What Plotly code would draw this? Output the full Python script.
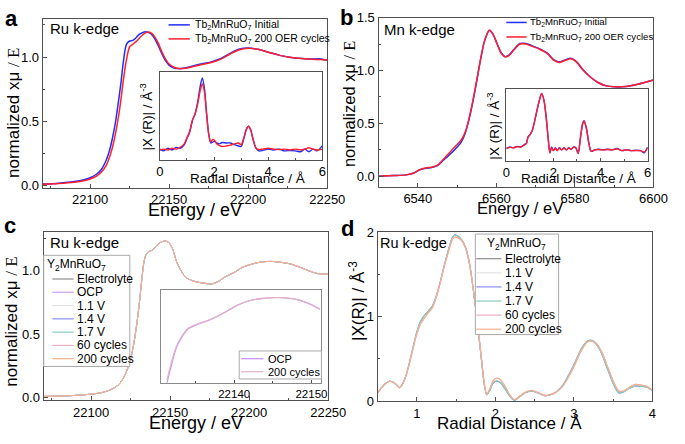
import plotly.graph_objects as go

W, H = 685, 444

# ---------------- data ----------------
# Panel a: Ru K-edge XANES, Tb2MnRuO7
a_energy = [22070, 22080, 22090, 22096, 22100, 22104, 22107, 22110, 22112, 22114, 22116, 22118,
            22119.5, 22121, 22123, 22125, 22127, 22129, 22131, 22133, 22135, 22137, 22139, 22141,
            22143, 22145, 22147, 22150, 22153, 22156, 22160, 22165, 22170, 22176, 22182, 22188,
            22194, 22200, 22206, 22212, 22218, 22225, 22232, 22240, 22246, 22250]
a_initial = [0.008, 0.015, 0.028, 0.042, 0.058, 0.085, 0.12, 0.19, 0.26, 0.36, 0.49, 0.66,
             0.80, 0.96, 1.10, 1.125, 1.13, 1.15, 1.177, 1.19, 1.197, 1.19, 1.175, 1.14,
             1.09, 1.035, 0.985, 0.935, 0.915, 0.91, 0.915, 0.93, 0.945, 0.96, 0.985, 1.025,
             1.06, 1.07, 1.06, 1.04, 1.02, 1.00, 0.99, 0.985, 0.985, 0.975]
a_oer = [0.006, 0.012, 0.022, 0.034, 0.048, 0.07, 0.10, 0.15, 0.21, 0.29, 0.40, 0.54,
         0.67, 0.82, 0.98, 1.08, 1.10, 1.12, 1.145, 1.17, 1.188, 1.195, 1.185, 1.155,
         1.11, 1.05, 1.00, 0.945, 0.92, 0.91, 0.912, 0.925, 0.94, 0.955, 0.98, 1.02,
         1.055, 1.068, 1.06, 1.04, 1.02, 1.00, 0.99, 0.983, 0.98, 0.975]

# Panel a inset: |X(R)| (arbitrary units)
a_inset_r = [0, 0.15, 0.3, 0.45, 0.6, 0.75, 0.9, 1.0, 1.1, 1.2, 1.3, 1.4, 1.5, 1.57, 1.65, 1.72,
             1.8, 1.88, 1.95, 2.02, 2.1, 2.2, 2.3, 2.45, 2.6, 2.75, 2.9, 3.0, 3.1, 3.2, 3.27,
             3.35, 3.45, 3.55, 3.65, 3.8, 4.0, 4.2, 4.4, 4.6, 4.8, 5.0, 5.2, 5.35, 5.5, 5.65,
             5.8, 6.0]
a_inset_initial = [0.12, 0.10, 0.13, 0.11, 0.14, 0.13, 0.17, 0.24, 0.31, 0.44, 0.52, 0.66, 0.85,
                   0.93, 0.80, 0.55, 0.30, 0.19, 0.20, 0.21, 0.19, 0.18, 0.195, 0.19, 0.19, 0.17,
                   0.155, 0.15, 0.24, 0.35, 0.38, 0.34, 0.22, 0.13, 0.10, 0.105, 0.12, 0.11,
                   0.12, 0.10, 0.105, 0.10, 0.09, 0.12, 0.09, 0.12, 0.10, 0.16]
a_inset_oer = [0.11, 0.12, 0.11, 0.13, 0.12, 0.14, 0.18, 0.25, 0.32, 0.45, 0.52, 0.64, 0.80,
               0.86, 0.76, 0.53, 0.30, 0.20, 0.23, 0.22, 0.18, 0.16, 0.15, 0.155, 0.165, 0.18,
               0.19, 0.17, 0.25, 0.35, 0.38, 0.34, 0.22, 0.13, 0.115, 0.12, 0.13, 0.12,
               0.115, 0.12, 0.11, 0.12, 0.11, 0.12, 0.135, 0.12, 0.11, 0.12]

# Panel b: Mn K-edge XANES, Tb2MnRuO7
b_energy = [6530, 6534, 6537, 6539, 6540.5, 6542, 6543.5, 6545, 6546.5, 6548, 6549.5, 6551,
            6552, 6553, 6554, 6555, 6556, 6557, 6558.2, 6559.2, 6560.2, 6561.2, 6562.2, 6563.2,
            6564.5, 6566, 6567.5, 6569, 6571, 6573, 6574.5, 6576, 6577.5, 6579, 6580.5, 6582,
            6584, 6586, 6588, 6590, 6593, 6596, 6600]
b_initial = [0.0, 0.005, 0.012, 0.03, 0.06, 0.075, 0.082, 0.10, 0.15, 0.20, 0.255, 0.32,
             0.40, 0.53, 0.70, 0.90, 1.11, 1.28, 1.38, 1.34, 1.25, 1.17, 1.13, 1.145,
             1.20, 1.255, 1.255, 1.235, 1.205, 1.165, 1.105, 1.08, 1.10, 1.115, 1.08, 1.01,
             0.936, 0.884, 0.854, 0.845, 0.848, 0.87, 0.91]
b_oer = [0.0, 0.005, 0.012, 0.03, 0.062, 0.078, 0.085, 0.105, 0.16, 0.22, 0.28, 0.34,
         0.41, 0.54, 0.71, 0.91, 1.11, 1.28, 1.38, 1.34, 1.25, 1.165, 1.13, 1.14,
         1.195, 1.25, 1.25, 1.23, 1.20, 1.16, 1.10, 1.076, 1.095, 1.11, 1.076, 1.006,
         0.936, 0.884, 0.854, 0.845, 0.848, 0.87, 0.91]

# Panel b inset: |X(R)| (arbitrary units)
b_inset_r = [0, 0.15, 0.3, 0.45, 0.6, 0.75, 0.85, 0.92, 1.0, 1.1, 1.2, 1.3, 1.4, 1.5, 1.6,
             1.7, 1.78, 1.85, 1.92, 2.0, 2.08, 2.16, 2.25, 2.35, 2.45, 2.55, 2.65, 2.75, 2.85,
             2.95, 3.05, 3.15, 3.25, 3.3, 3.4, 3.5, 3.6, 3.75, 3.9, 4.1, 4.3, 4.5, 4.7, 4.9,
             5.1, 5.3, 5.5, 5.7, 5.85, 6.0]
b_inset_initial = [0.17, 0.19, 0.18, 0.20, 0.19, 0.22, 0.24, 0.33, 0.36, 0.42, 0.55, 0.70, 0.84,
                   0.94, 0.84, 0.58, 0.30, 0.11, 0.19, 0.14, 0.18, 0.14, 0.18, 0.15, 0.18, 0.15,
                   0.18, 0.16, 0.19, 0.18, 0.10, 0.33, 0.53, 0.56, 0.45, 0.25, 0.13, 0.15, 0.16,
                   0.15, 0.16, 0.15, 0.17, 0.14, 0.15, 0.14, 0.145, 0.14, 0.11, 0.19]
b_inset_oer = [0.17, 0.185, 0.18, 0.195, 0.19, 0.215, 0.24, 0.33, 0.36, 0.42, 0.55, 0.70, 0.84,
               0.935, 0.84, 0.58, 0.30, 0.11, 0.185, 0.14, 0.175, 0.14, 0.175, 0.15, 0.175, 0.15,
               0.175, 0.16, 0.185, 0.18, 0.10, 0.33, 0.53, 0.555, 0.45, 0.25, 0.13, 0.15, 0.155,
               0.15, 0.155, 0.15, 0.165, 0.14, 0.15, 0.14, 0.14, 0.14, 0.12, 0.18]

# Panel c: Ru K-edge XANES, Y2MnRuO7 (all conditions overlap)
c_energy = [22070, 22080, 22090, 22100, 22106, 22111, 22115, 22118, 22120.5, 22122.5, 22124.5,
            22126, 22127.5, 22129, 22130.5, 22132, 22133.5, 22135, 22137, 22139, 22141, 22144,
            22146.5, 22149, 22151.5, 22154, 22157, 22160, 22164, 22168, 22172, 22176, 22180,
            22185, 22190, 22196, 22202, 22208, 22214, 22220, 22226, 22232, 22238, 22243, 22250]
c_mu = [0.01, 0.013, 0.018, 0.028, 0.038, 0.056, 0.08, 0.11, 0.157, 0.21, 0.28,
        0.36, 0.46, 0.59, 0.74, 0.92, 1.07, 1.13, 1.15, 1.16, 1.19, 1.22,
        1.23, 1.22, 1.17, 1.07, 0.995, 0.944, 0.919, 0.906, 0.898, 0.893, 0.91,
        0.95, 0.98, 1.025, 1.05, 1.066, 1.07, 1.063, 1.05, 1.025, 0.995, 0.975, 0.97]

# Panel c inset: edge detail (arbitrary units)
c_inset_energy = [22131.3, 22131.9, 22132.5, 22133.2, 22134.0, 22135.25, 22136.9, 22138.6,
                  22140.25, 22141.9, 22143.6, 22145.7, 22147.75, 22149.4, 22151.1]
c_inset_ocp = [0.0, 0.2, 0.375, 0.49, 0.58, 0.63, 0.68, 0.75, 0.83, 0.885, 0.91, 0.92, 0.906,
               0.865, 0.795]
c_inset_200 = [0.03, 0.23, 0.39, 0.50, 0.585, 0.635, 0.683, 0.752, 0.83, 0.884, 0.909, 0.919,
               0.905, 0.864, 0.795]

# Panel d: |X(R)|, Y2MnRuO7
d_r = [0.5, 0.55, 0.6, 0.65, 0.7, 0.75, 0.78, 0.82, 0.87, 0.93, 1.0, 1.05, 1.1, 1.15, 1.2, 1.25,
       1.3, 1.35, 1.4, 1.45, 1.48, 1.52, 1.57, 1.62, 1.67, 1.72, 1.77, 1.82, 1.86, 1.89, 1.93,
       1.97, 2.02, 2.07, 2.12, 2.18, 2.24, 2.3, 2.38, 2.46, 2.55, 2.63, 2.7, 2.78, 2.86, 2.94,
       3.02, 3.1, 3.17, 3.22, 3.28, 3.35, 3.42, 3.5, 3.57, 3.63, 3.7, 3.78, 3.86, 3.93, 4.0]
d_potential = [0.10, 0.16, 0.21, 0.235, 0.225, 0.185, 0.16, 0.21, 0.33, 0.55, 0.82, 0.95, 1.02,
               1.07, 1.13, 1.25, 1.42, 1.61, 1.78, 1.93, 1.965, 1.955, 1.91, 1.82, 1.63, 1.31,
               0.93, 0.51, 0.19, 0.076, 0.13, 0.215, 0.24, 0.215, 0.15, 0.065, 0.01, 0.05, 0.10,
               0.12, 0.095, 0.065, 0.076, 0.114, 0.19, 0.32, 0.47, 0.63, 0.71, 0.72, 0.68, 0.57,
               0.40, 0.21, 0.10, 0.11, 0.15, 0.18, 0.175, 0.165, 0.125]
d_cycles = [0.10, 0.16, 0.21, 0.235, 0.225, 0.185, 0.16, 0.21, 0.33, 0.54, 0.80, 0.92, 0.99,
            1.05, 1.11, 1.24, 1.41, 1.60, 1.76, 1.91, 1.94, 1.935, 1.90, 1.81, 1.62, 1.31,
            0.94, 0.53, 0.20, 0.08, 0.15, 0.24, 0.275, 0.25, 0.18, 0.08, 0.02, 0.055, 0.105,
            0.13, 0.10, 0.07, 0.08, 0.11, 0.18, 0.30, 0.45, 0.61, 0.70, 0.71, 0.69, 0.59,
            0.43, 0.24, 0.12, 0.12, 0.16, 0.20, 0.19, 0.175, 0.13]

c_series = ["Electrolyte", "OCP", "1.1 V", "1.4 V", "1.7 V", "60 cycles", "200 cycles"]
d_series = ["Electrolyte", "1.1 V", "1.4 V", "1.7 V", "60 cycles", "200 cycles"]
d_data = {"Electrolyte": d_potential, "1.1 V": d_potential, "1.4 V": d_potential,
          "1.7 V": d_potential, "60 cycles": d_cycles, "200 cycles": d_cycles}
inset_c_series = ["OCP", "200 cycles"]
inset_c_data = {"OCP": c_inset_ocp, "200 cycles": c_inset_200}

tb_names = ["Tb<sub>2</sub>MnRuO<sub>7</sub> Initial", "Tb<sub>2</sub>MnRuO<sub>7</sub> 200 OER cycles"]

# ---------------- styles ----------------
FONT = "Liberation Sans, Arial, Helvetica, sans-serif"
BLUE, RED = "#1f2dff", "#ff1f2d"
series_colors = {"Electrolyte": "#8c8c8c", "OCP": "#cf9cf2", "1.1 V": "#e4e4e4",
                 "1.4 V": "#8d8df0", "1.7 V": "#85cdbd", "60 cycles": "#ebb0c4",
                 "200 cycles": "#f4b088"}
inset_c_colors = {"OCP": "#c78cf5", "200 cycles": "#e3b3c8"}
AXC = "#505050"


def px(x):
    return x / W


def py(y):
    return 1 - y / H


fig = go.Figure()


def spline(x, y, xa, ya, color, width, name):
    fig.add_trace(go.Scatter(x=x, y=y, xaxis=xa, yaxis=ya, mode="lines", name=name,
                             line=dict(color=color, width=width, shape="spline", smoothing=0.8),
                             showlegend=False, hoverinfo="skip"))


# panel a
spline(a_energy, a_initial, "x", "y", BLUE, 1.5, "Initial")
spline(a_energy, a_oer, "x", "y", RED, 1.5, "200 OER cycles")
spline(a_inset_r, a_inset_initial, "x2", "y2", BLUE, 1.4, "Initial")
spline(a_inset_r, a_inset_oer, "x2", "y2", RED, 1.4, "200 OER cycles")
# panel b
spline(b_energy, b_initial, "x3", "y3", BLUE, 1.5, "Initial")
spline(b_energy, b_oer, "x3", "y3", RED, 1.5, "200 OER cycles")
spline(b_inset_r, b_inset_initial, "x4", "y4", BLUE, 1.4, "Initial")
spline(b_inset_r, b_inset_oer, "x4", "y4", RED, 1.4, "200 OER cycles")
# panel c
for s in c_series:
    spline(c_energy, c_mu, "x5", "y5", series_colors[s], 1.0, s)
for s in inset_c_series:
    spline(c_inset_energy, inset_c_data[s], "x6", "y6", inset_c_colors[s], 1.2, s)
# panel d
for s in d_series:
    spline(d_r, d_data[s], "x7", "y7", series_colors[s], 1.1, s)


def axis(dom, rng, **kw):
    d = dict(domain=dom, range=rng, showline=True, linecolor=AXC, linewidth=1.2, mirror=True,
             ticks="inside", ticklen=4, tickcolor=AXC, tickwidth=1,
             tickfont=dict(size=13, color="black", family=FONT),
             showgrid=False, zeroline=False, fixedrange=True)
    d.update(kw)
    return d


def minor(step, ln=2):
    return dict(ticks="inside", ticklen=ln, dtick=step, tickcolor=AXC, showgrid=False)


# pixel boxes: (left, right, top, bottom)
A = (40, 334, 12, 187)
AI = (161, 329, 67, 158)
B = (387, 671, 11, 186)
BI = (519, 665, 85, 159)
C = (41, 335, 233, 407)
CI = (162, 328, 293, 389)
D = (386, 670, 233, 408)


def xd(b):
    return [px(b[0]), px(b[1])]


def yd(b):
    return [py(b[3]), py(b[2])]


layout_axes = dict(
    xaxis=axis(xd(A), [22070, 22250], dtick=50, tick0=22100, tickformat="d", minor=minor(25), anchor="y"),
    yaxis=axis(yd(A), [-0.02, 1.3], dtick=0.5, tick0=0, tickformat=".1f", minor=minor(0.25), anchor="x"),
    xaxis2=axis(xd(AI), [0, 6], dtick=2, tick0=0, minor=minor(1), anchor="y2", ticklen=3),
    yaxis2=axis(yd(AI), [0, 1], showticklabels=False, ticks="", anchor="x2"),
    xaxis3=axis(xd(B), [6530, 6600], dtick=20, tick0=6540, tickformat="d", minor=minor(10), anchor="y3"),
    yaxis3=axis(yd(B), [-0.1, 1.5], dtick=0.5, tick0=0, tickformat=".1f", minor=minor(0.25), anchor="x3"),
    xaxis4=axis(xd(BI), [0, 6], dtick=2, tick0=0, minor=minor(1), anchor="y4", ticklen=3),
    yaxis4=axis(yd(BI), [0, 1], showticklabels=False, ticks="", anchor="x4"),
    xaxis5=axis(xd(C), [22070, 22250], dtick=50, tick0=22100, tickformat="d", minor=minor(25), anchor="y5"),
    yaxis5=axis(yd(C), [-0.02, 1.3], dtick=0.5, tick0=0, tickformat=".1f", minor=minor(0.25), anchor="x5"),
    xaxis6=axis(xd(CI), [22130.5, 22151.3], dtick=10, tick0=22140, tickformat="d", minor=minor(5),
                anchor="y6", ticklen=3, tickfont=dict(size=11.5, color="black", family=FONT),
                linecolor="#8a8a8a"),
    yaxis6=axis(yd(CI), [0, 1], showticklabels=False, ticks="", anchor="x6", linecolor="#8a8a8a"),
    xaxis7=axis(xd(D), [0.5, 4], dtick=1, tick0=1, minor=minor(0.5), anchor="y7"),
    yaxis7=axis(yd(D), [0, 2], dtick=1, tick0=0, minor=minor(0.5), anchor="x7"),
)

ann = []
shapes = []


def text(x, y, t, size, xanchor="center", yanchor="middle", angle=0, bold=False):
    if bold:
        t = "<b>" + t + "</b>"
    ann.append(dict(x=px(x), y=py(y), xref="paper", yref="paper", text=t, showarrow=False,
                    xanchor=xanchor, yanchor=yanchor, textangle=angle, borderpad=0,
                    font=dict(size=size, color="black", family=FONT)))


# panel letters
text(8, 12, "a", 22, bold=True)
text(354, 11, "b", 22, bold=True)
text(6, 226, "c", 22, bold=True)
text(355, 229, "d", 22, bold=True)

# edge labels
text(46, 22, "Ru k-edge", 15, xanchor="left")
text(392, 23, "Mn k-edge", 15, xanchor="left")
text(47, 244, "Ru k-edge", 15, xanchor="left")
text(387, 244, "Ru k-edge", 14.5, xanchor="left")

# axis titles
ytitle = 'normalized xμ <span style="font-family:Liberation Serif, Times New Roman, serif">/ E</span>'
text(10, 110, ytitle, 17, angle=-90)
text(357, 101, ytitle, 16.5, angle=-90)
text(8, 326, ytitle, 17, angle=-90)
text(364, 304, "|X(R)| / Å<sup>-3</sup>", 17, angle=-90)
text(197, 210, "Energy / eV", 18)
text(533, 208, "Energy / eV", 16.5)
text(198, 431, "Energy / eV", 18)
text(522, 431, "Radial Distance / Å", 17)
# inset titles
text(147, 114, "|X (R)| / Å<sup>-3</sup>", 13.5, angle=-90)
text(252, 178, "Radial Distance / Å", 13.5)
text(505, 123, "|X (R)| / Å<sup>-3</sup>", 13.5, angle=-90)
text(594, 178, "Radial Distance / Å", 13.5)


def legend(names, colors, x0, x1, xt, y0, dy, size, lw=1.2, box=None, title=None, title_xy=None):
    if box is not None:
        shapes.append(dict(type="rect", xref="paper", yref="paper", layer="above",
                           x0=px(box[0]), x1=px(box[1]), y0=py(box[3]), y1=py(box[2]),
                           line=dict(color="#a8a8a8", width=1), fillcolor="white"))
    if title is not None:
        text(title_xy[0], title_xy[1], title, size)
    for i, n in enumerate(names):
        y = y0 + i * dy
        shapes.append(dict(type="line", xref="paper", yref="paper", layer="above",
                           x0=px(x0), x1=px(x1), y0=py(y), y1=py(y),
                           line=dict(color=colors[i], width=lw)))
        text(xt, y, n, size, xanchor="left")


legend(tb_names, [BLUE, RED], 170, 192, 196, 18.5, 14.5, 10.5, lw=1.5)
legend(tb_names, [BLUE, RED], 519, 540, 542, 16, 15, 9.6, lw=1.5)
ymn = "Y<sub>2</sub>MnRuO<sub>7</sub>"
legend(c_series, [series_colors[s] for s in c_series], 50, 72, 74, 281.5, 13.75, 12,
       box=(41, 130, 257, 372), title=ymn, title_xy=(75, 267))
legend(d_series, [series_colors[s] for s in d_series], 488, 514, 517, 260.5, 14.6, 12,
       box=(487, 573, 235, 339), title=ymn, title_xy=(529, 245))
legend(inset_c_series, [inset_c_colors[s] for s in inset_c_series], 245, 268, 272, 364, 13.5, 11,
       box=(243, 328, 356, 385))

fig.update_layout(
    width=W, height=H, margin=dict(l=0, r=0, t=0, b=0),
    paper_bgcolor="white", plot_bgcolor="white",
    font=dict(family=FONT, color="black"),
    showlegend=False, annotations=ann, shapes=shapes,
    **layout_axes,
)

fig.write_html("out.html", config={"displayModeBar": False},
               post_script="document.body.style.margin='0px';")
